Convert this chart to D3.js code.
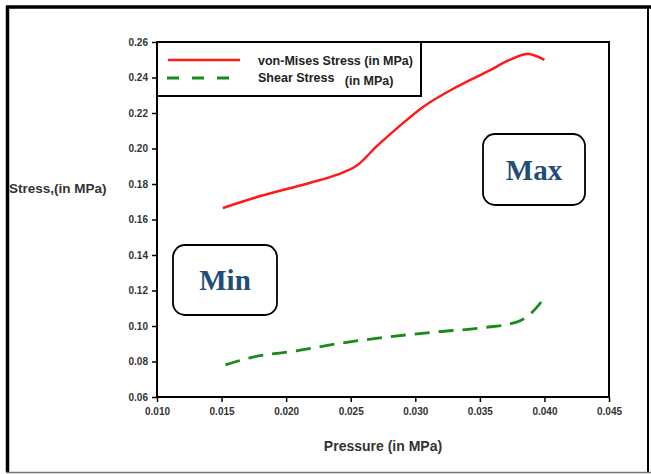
<!DOCTYPE html>
<html>
<head>
<meta charset="utf-8">
<script src="https://cdn.jsdelivr.net/npm/d3@7"></script>
<style>
  body { margin: 0; background: #fff; }
</style>
</head>
<body>
<div id="chart"></div>
<script>
// values
var vonMisesP = [0.0151, 0.0180, 0.0218, 0.0239, 0.0255, 0.0270, 0.0286, 0.0306, 0.0332, 0.0358, 0.0373, 0.0387, 0.0400];
var vonMisesS = [0.1665, 0.1732, 0.1806, 0.1851, 0.1905, 0.2012, 0.2115, 0.2234, 0.2347, 0.2442, 0.2499, 0.2532, 0.2499];

var shearP = [0.0153, 0.0172, 0.0208, 0.0244, 0.0280, 0.0317, 0.0352, 0.0379, 0.0390, 0.0400];
var shearS = [0.0781, 0.0821, 0.0860, 0.0905, 0.0939, 0.0967, 0.0990, 0.1023, 0.1074, 0.1159];

var xTicks = [0.010, 0.015, 0.020, 0.025, 0.030, 0.035, 0.040, 0.045];
var yTicks = [0.06, 0.08, 0.10, 0.12, 0.14, 0.16, 0.18, 0.20, 0.22, 0.24, 0.26];

var legendLabels = [["von-Mises Stress (in MPa)", ""], ["Shear Stress  ", " (in MPa)"]];

var width = 651, height = 474;
var plot = { left: 157, right: 609, top: 42, bottom: 397 };
var sans = "Arial, 'Liberation Sans', sans-serif";
var serif = "'Times New Roman', 'Liberation Serif', serif";

var svg = d3.select("#chart")
    .append("svg")
    .attr("width", width)
    .attr("height", height)
    .style("font-family", sans);

// outer frame
svg.append("line").attr("x1", 6).attr("x2", 651).attr("y1", 7).attr("y2", 7)
    .attr("stroke", "#000").attr("stroke-width", 3.5);
svg.append("line").attr("x1", 7.5).attr("x2", 7.5).attr("y1", 6).attr("y2", 472)
    .attr("stroke", "#000").attr("stroke-width", 3.5);
svg.append("line").attr("x1", 648).attr("x2", 648).attr("y1", 6).attr("y2", 472)
    .attr("stroke", "#000").attr("stroke-width", 2);
svg.append("line").attr("x1", 6).attr("x2", 651).attr("y1", 472.5).attr("y2", 472.5)
    .attr("stroke", "#777").attr("stroke-width", 1.5);

var xScale = d3.scaleLinear().domain([0.010, 0.045]).range([plot.left, plot.right]);
var yScale = d3.scaleLinear().domain([0.06, 0.26]).range([plot.bottom, plot.top]);

// axes
var xAxis = svg.append("g")
    .attr("transform", "translate(0," + plot.bottom + ")")
    .call(d3.axisBottom(xScale).tickValues(xTicks).tickFormat(d3.format(".3f")).tickSize(5).tickPadding(6));
var yAxis = svg.append("g")
    .attr("transform", "translate(" + plot.left + ",0)")
    .call(d3.axisLeft(yScale).tickValues(yTicks).tickFormat(d3.format(".2f")).tickSize(5).tickPadding(4));

[xAxis, yAxis].forEach(function(a) {
    a.attr("font-family", null);
    a.select(".domain").remove();
    a.selectAll("line").attr("stroke", "#000").attr("stroke-width", 1.5);
    a.selectAll("text")
        .attr("font-size", 10)
        .attr("font-weight", "bold")
        .attr("fill", "#333");
});

// plot box
svg.append("rect")
    .attr("x", plot.left).attr("y", plot.top)
    .attr("width", plot.right - plot.left).attr("height", plot.bottom - plot.top)
    .attr("fill", "none").attr("stroke", "#000").attr("stroke-width", 2);

// series
var line = d3.line()
    .x(function(d) { return xScale(d[0]); })
    .y(function(d) { return yScale(d[1]); })
    .curve(d3.curveMonotoneX);

svg.append("path")
    .datum(d3.zip(vonMisesP, vonMisesS))
    .attr("d", line)
    .attr("fill", "none")
    .attr("stroke", "#ff1a1a")
    .attr("stroke-width", 2.5);

svg.append("path")
    .datum(d3.zip(shearP, shearS))
    .attr("d", line)
    .attr("fill", "none")
    .attr("stroke", "#1a8a1a")
    .attr("stroke-width", 2.8)
    .attr("stroke-dasharray", "15,9");

// legend
var legend = svg.append("g");
legend.append("rect")
    .attr("x", plot.left).attr("y", plot.top)
    .attr("width", 264).attr("height", 54)
    .attr("fill", "#fff").attr("stroke", "#000").attr("stroke-width", 2);
legend.append("line")
    .attr("x1", 168).attr("x2", 240).attr("y1", 60).attr("y2", 60)
    .attr("stroke", "#ff1a1a").attr("stroke-width", 2.5);
legend.append("line")
    .attr("x1", 167).attr("x2", 240).attr("y1", 78).attr("y2", 78)
    .attr("stroke", "#1a8a1a").attr("stroke-width", 2.8)
    .attr("stroke-dasharray", "12,13");
var labs = legend.selectAll("text.lab")
    .data(legendLabels)
    .enter()
    .append("text")
    .attr("class", "lab")
    .attr("x", 258)
    .attr("y", function(d, i) { return 65 + i * 17; })
    .attr("font-size", 12.5)
    .attr("font-weight", "bold")
    .attr("fill", "#222")
    .style("white-space", "pre");
labs.append("tspan").text(function(d) { return d[0]; });
labs.append("tspan").attr("dy", 3).text(function(d) { return d[1]; });

// axis titles
svg.append("text")
    .attr("x", 383).attr("y", 451)
    .attr("text-anchor", "middle")
    .attr("font-size", 14)
    .attr("font-weight", "bold")
    .attr("fill", "#333")
    .text("Pressure (in MPa)");
svg.append("text")
    .attr("x", 9).attr("y", 193)
    .attr("font-size", 13.5)
    .attr("font-weight", "bold")
    .attr("fill", "#333")
    .text("Stress,(in MPa)");

// Min / Max callouts
var boxes = [
    { label: "Max", x: 483, y: 134, w: 102, h: 71 },
    { label: "Min", x: 173, y: 245, w: 104, h: 70 }
];
var callout = svg.selectAll("g.callout")
    .data(boxes)
    .enter()
    .append("g")
    .attr("class", "callout");
callout.append("rect")
    .attr("x", function(d) { return d.x; })
    .attr("y", function(d) { return d.y; })
    .attr("width", function(d) { return d.w; })
    .attr("height", function(d) { return d.h; })
    .attr("rx", 12)
    .attr("fill", "#fff")
    .attr("stroke", "#000")
    .attr("stroke-width", 1.8);
callout.append("text")
    .attr("x", function(d) { return d.x + d.w / 2; })
    .attr("y", function(d) { return d.y + d.h / 2 + 10; })
    .attr("text-anchor", "middle")
    .style("font-family", serif)
    .attr("font-size", 29)
    .attr("font-weight", "bold")
    .attr("fill", "#1f4e79")
    .text(function(d) { return d.label; });
</script>
</body>
</html>
